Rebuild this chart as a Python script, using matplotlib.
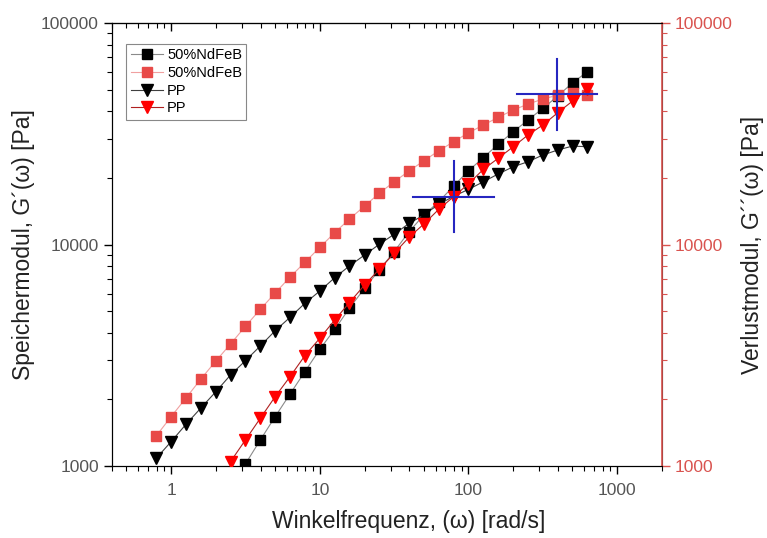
#!/usr/bin/env python3
import numpy as np
import matplotlib

matplotlib.use("Agg")
import matplotlib.pyplot as plt
from matplotlib.ticker import LogLocator, FixedLocator, FixedFormatter, NullFormatter

plt.rcParams["font.family"] = ["Liberation Sans", "DejaVu Sans"]

# angular frequency [rad/s]
omega = [0.794, 1.0, 1.26, 1.58, 2.0, 2.51, 3.16, 3.98, 5.01, 6.31,
         7.94, 10.0, 12.6, 15.8, 20.0, 25.1, 31.6, 39.8, 50.1, 63.1,
         79.4, 100.0, 126.0, 158.0, 200.0, 251.0, 316.0, 398.0, 501.0, 631.0]

nan = np.nan
# G' 50%NdFeB (black squares) - below 1000 Pa at low frequency (off axis)
g1_ndfeb = [nan, nan, nan, nan, nan, nan, 1021, 1310, 1670, 2114,
            2666, 3364, 4141, 5152, 6343, 7670, 9280, 11420, 13590, 15610,
            18370, 21540, 24700, 28350, 32300, 36480, 41200, 46800, 53800, 60300]
# G'' 50%NdFeB (red squares)
g2_ndfeb = [1366, 1670, 2028, 2463, 2979, 3555, 4272, 5099, 6040, 7134,
            8312, 9714, 11310, 13030, 14920, 17030, 19210, 21470, 23890, 26510,
            29120, 31970, 34640, 37520, 40480, 43090, 45390, 47300, 48600, 47600]
# G' PP (black triangles)
g1_pp = [1083, 1287, 1543, 1822, 2165, 2576, 2988, 3482, 4081, 4692,
         5427, 6167, 7084, 7998, 8966, 10020, 11120, 12450, 13600, 15200,
         16500, 17750, 19210, 20810, 22460, 23650, 25360, 26720, 27840, 27650]
# G'' PP (red triangles)
g2_pp = [nan, nan, nan, nan, nan, 1046, 1310, 1642, 2056, 2532,
         3150, 3772, 4562, 5462, 6565, 7727, 9122, 10780, 12380, 14420,
         16440, 18800, 21860, 24490, 27650, 31220, 34640, 39370, 44460, 50200]

# crossover markers (centre omega, centre modulus)
cross_w = [79.4, 393.0]
cross_g = [16440, 47800]
cross_dx = 0.27  # half width in decades
cross_dy = 0.16  # half height in decades

legend_labels = ["50%NdFeB", "50%NdFeB", "PP", "PP"]

RED_AX = "#d9534f"
GRAY_TXT = "#555555"

fig = plt.figure(figsize=(7.67, 5.38), dpi=100)
ax = fig.add_axes([0.146, 0.134, 0.717, 0.823])
ax2 = ax.twinx()

ax.set_xscale("log")
ax.set_yscale("log")
ax2.set_yscale("log")
ax.set_xlim(0.4, 2000)
ax.set_ylim(1000, 100000)
ax2.set_ylim(1000, 100000)

h1, = ax.plot(omega, g1_ndfeb, "-", color="#8a8a8a", lw=0.8, marker="s", ms=6.5,
              mfc="black", mec="black", label=legend_labels[0], zorder=3)
h3, = ax.plot(omega, g1_pp, "-", color="#404040", lw=0.8, marker="v", ms=9,
              mfc="black", mec="black", label=legend_labels[2], zorder=3)
h2, = ax2.plot(omega, g2_ndfeb, "-", color="#f0a0a0", lw=0.8, marker="s", ms=6.5,
               mfc="#e84a48", mec="#e84a48", label=legend_labels[1], zorder=3)
h4, = ax2.plot(omega, g2_pp, "-", color="#b02020", lw=0.8, marker="v", ms=9,
               mfc="#ff0000", mec="#ff0000", label=legend_labels[3], zorder=3)

for w, g in zip(cross_w, cross_g):
    ax2.plot([w / 10 ** cross_dx, w * 10 ** cross_dx], [g, g], color="#2626c0", lw=1.5, zorder=5)
    ax2.plot([w, w], [g / 10 ** cross_dy, g * 10 ** cross_dy], color="#2626c0", lw=1.5, zorder=5)

minor = LogLocator(base=10, subs=np.arange(2, 10), numticks=20)

# x ticks (bottom out)
ax.xaxis.set_major_locator(FixedLocator([1, 10, 100, 1000]))
ax.xaxis.set_major_formatter(FixedFormatter(["1", "10", "100", "1000"]))
ax.xaxis.set_minor_locator(minor)
ax.xaxis.set_minor_formatter(NullFormatter())
ax.tick_params(axis="x", which="both", top=False, direction="out", colors="black",
               labelcolor=GRAY_TXT, labelsize=12.5, pad=6)
ax.tick_params(axis="x", which="major", length=6, width=1)
ax.tick_params(axis="x", which="minor", length=3.5, width=0.8)

# top ticks point inward, no labels
top = ax.secondary_xaxis("top")
top.xaxis.set_major_locator(FixedLocator([1, 10, 100, 1000]))
top.xaxis.set_minor_locator(LogLocator(base=10, subs=np.arange(2, 10), numticks=20))
top.xaxis.set_major_formatter(NullFormatter())
top.xaxis.set_minor_formatter(NullFormatter())
top.tick_params(which="both", direction="in")
top.tick_params(which="major", length=6, width=1)
top.tick_params(which="minor", length=3.5, width=0.8)

# left y ticks
ax.yaxis.set_major_locator(FixedLocator([1000, 10000, 100000]))
ax.yaxis.set_major_formatter(FixedFormatter(["1000", "10000", "100000"]))
ax.yaxis.set_minor_locator(LogLocator(base=10, subs=np.arange(2, 10), numticks=20))
ax.yaxis.set_minor_formatter(NullFormatter())
ax.tick_params(axis="y", which="both", direction="out", labelcolor=GRAY_TXT, labelsize=12.5)
ax.tick_params(axis="y", which="major", length=6, width=1)
ax.tick_params(axis="y", which="minor", length=3.5, width=0.8)

# right y ticks (red)
ax2.yaxis.set_major_locator(FixedLocator([1000, 10000, 100000]))
ax2.yaxis.set_major_formatter(FixedFormatter(["1000", "10000", "100000"]))
ax2.yaxis.set_minor_locator(LogLocator(base=10, subs=np.arange(2, 10), numticks=20))
ax2.yaxis.set_minor_formatter(NullFormatter())
ax2.tick_params(axis="y", which="both", direction="out", colors=RED_AX, labelsize=12.5)
ax2.tick_params(axis="y", which="major", length=6, width=1)
ax2.tick_params(axis="y", which="minor", length=3.5, width=0.8)
ax2.spines["right"].set_color(RED_AX)
ax2.spines["right"].set_linewidth(1.2)

ax.set_xlabel("Winkelfrequenz, (ω) [rad/s]", fontsize=16.5, color="#222222", labelpad=9)
ax.xaxis.label.set_x(0.54)
ax.set_ylabel("Speichermodul, G´(ω) [Pa]", fontsize=16.5, color="#222222", labelpad=4)
ax2.set_ylabel("Verlustmodul, G´´(ω) [Pa]", fontsize=16.5, color="#222222", labelpad=6)

leg = ax2.legend([h1, h2, h3, h4], legend_labels, loc="upper left",
                 bbox_to_anchor=(0.026, 0.953), borderaxespad=0, fontsize=10.5,
                 frameon=True, fancybox=False, framealpha=1, edgecolor="#888888",
                 handlelength=2.2, handletextpad=0.3, labelspacing=0.25, borderpad=0.3)
leg.get_frame().set_linewidth(0.8)

fig.savefig("out.png", dpi=100)
